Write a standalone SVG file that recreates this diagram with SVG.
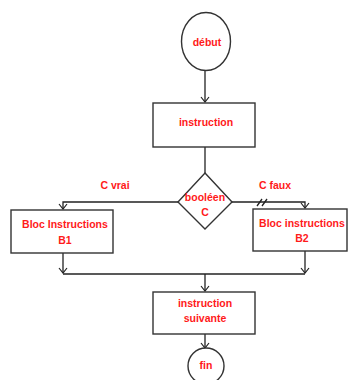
<svg xmlns="http://www.w3.org/2000/svg" width="349" height="380" viewBox="0 0 349 380">
<defs>
<marker id="arr" markerWidth="8" markerHeight="10" refX="6" refY="5" orient="auto" markerUnits="userSpaceOnUse" viewBox="0 0 8 10">
<path d="M1,1 L6,5 L1,9" fill="none" stroke="#222" stroke-width="1.2"/>
</marker>
<style>
.sh{fill:#fff;stroke:#333;stroke-width:1.4}
.ln{fill:none;stroke:#222;stroke-width:1.3}
.t{font-family:"Liberation Sans",Arial,sans-serif;font-weight:bold;font-size:10.5px;fill:#ff1a1a;text-anchor:middle}
</style>
</defs>
<rect width="349" height="380" fill="#fff"/>
<g id="connectors">
<path class="ln" d="M205,70 V102" marker-end="url(#arr)"/>
<path class="ln" d="M205,147 V173"/>
<path class="ln" d="M178,202 H63 V209" marker-end="url(#arr)"/>
<path class="ln" d="M232,202 H305 V208" marker-end="url(#arr)"/>
<path class="ln" d="M257,206 L262,199 M262,206 L267,199"/>
<path class="ln" d="M63,253 V273" marker-end="url(#arr)"/>
<path class="ln" d="M305,251 V273" marker-end="url(#arr)"/>
<path class="ln" d="M63,274 H305"/>
<path class="ln" d="M205,274 V291" marker-end="url(#arr)"/>
<path class="ln" d="M205,334 V348" marker-end="url(#arr)"/>
<text class="t" x="115" y="189">C vrai</text>
<text class="t" x="275" y="189">C faux</text>
</g>
<g id="debut">
<ellipse class="sh" cx="206" cy="41.5" rx="24.5" ry="29"/>
<text class="t" x="207" y="46">début</text>
</g>
<g id="instruction">
<rect class="sh" x="153" y="103" width="102" height="44"/>
<text class="t" x="206" y="126">instruction</text>
</g>
<g id="booleen">
<polygon class="sh" points="205,173 232,202 205,229 178,202"/>
<text class="t" x="205" y="201">booléen</text>
<text class="t" x="205" y="216">C</text>
</g>
<g id="b1">
<rect class="sh" x="11" y="210" width="102" height="43"/>
<text class="t" x="65" y="228">Bloc Instructions</text>
<text class="t" x="65" y="244">B1</text>
</g>
<g id="b2">
<rect class="sh" x="253" y="209" width="94" height="42"/>
<text class="t" x="302" y="227">Bloc instructions</text>
<text class="t" x="302" y="242">B2</text>
</g>
<g id="suivante">
<rect class="sh" x="153" y="292" width="102" height="42"/>
<text class="t" x="205" y="307">instruction</text>
<text class="t" x="205" y="322">suivante</text>
</g>
<g id="fin">
<circle class="sh" cx="206" cy="366" r="18"/>
<text class="t" x="206" y="369">fin</text>
</g>
</svg>
